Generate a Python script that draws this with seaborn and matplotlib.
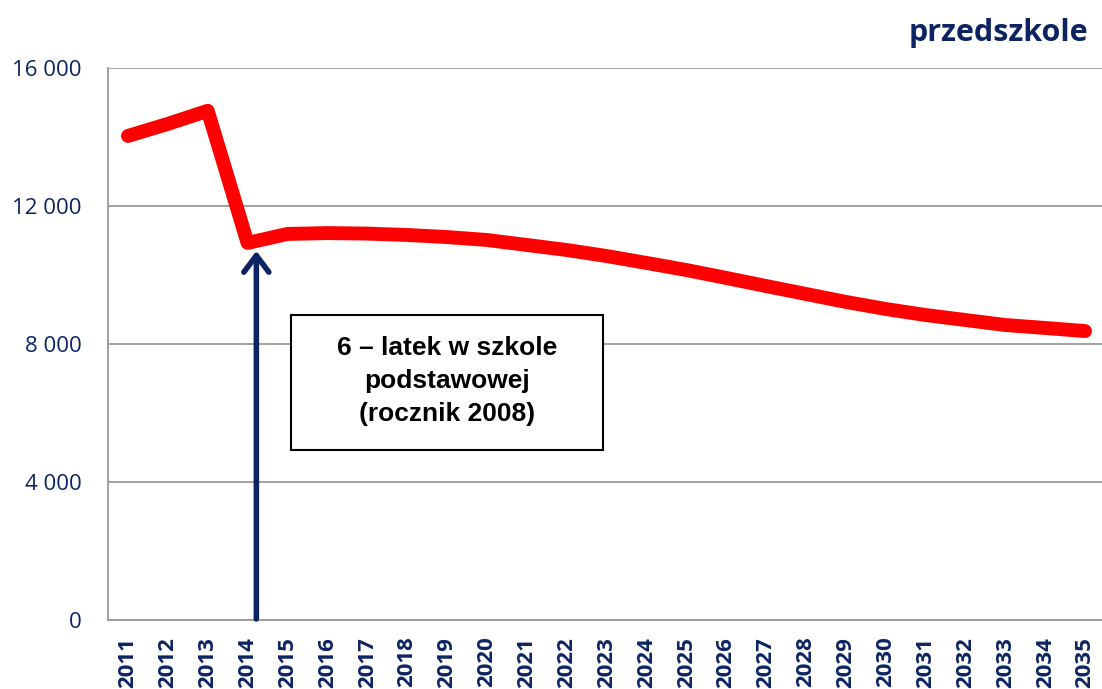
import matplotlib
matplotlib.use("Agg")
import matplotlib.pyplot as plt
import seaborn as sns
import pandas as pd
from matplotlib.patches import Rectangle

# data
years = list(range(2011, 2036))
children = [14030, 14380, 14760, 10930, 11190, 11215, 11200, 11160, 11100, 11015,
            10870, 10725, 10550, 10350, 10145, 9915, 9680, 9450, 9220, 9015,
            8840, 8695, 8550, 8465, 8375]
y_ticks = [0, 4000, 8000, 12000, 16000]
y_tick_labels = ["0", "4 000", "8 000", "12 000", "16 000"]
title = "przedszkole"
note = "6 – latek w szkole\npodstawowej\n(rocznik 2008)"

navy = "#0d2463"
df = pd.DataFrame({"rok": years, "liczba": children})

sns.set_style("white")
plt.rcParams["font.family"] = ["Open Sans", "DejaVu Sans"]

fig = plt.figure(figsize=(11.02, 6.89), dpi=100)
ax = fig.add_axes([108 / 1102, 69 / 689, 997 / 1102, 552 / 689])

sns.lineplot(data=df, x="rok", y="liczba", ax=ax, color="#ff0000", linewidth=10,
             solid_capstyle="round", solid_joinstyle="round", zorder=3)

ax.set_xlim(2010.5, 2035.5)
ax.set_ylim(0, 16000)
ax.set_yticks(y_ticks)
ax.set_yticklabels(y_tick_labels, fontsize=16, color=navy)
ax.set_xticks(years)
ax.set_xticklabels([str(y) for y in years], rotation=90, fontsize=16,
                   fontweight="bold", color=navy)
ax.tick_params(axis="x", length=0, pad=12)
ax.tick_params(axis="y", length=0, pad=19)
ax.set_xlabel("")
ax.set_ylabel("")

ax.grid(axis="y", color="#9a9a9a", linewidth=1.3)
ax.grid(axis="x", visible=False)
for side in ["top", "right"]:
    ax.spines[side].set_visible(False)
for side in ["left", "bottom"]:
    ax.spines[side].set_color("#9a9a9a")
    ax.spines[side].set_linewidth(1.3)

# arrow pointing at 2014
ax.annotate("", xy=(2014.22, 10700), xytext=(2014.22, 30),
            arrowprops=dict(arrowstyle="->, head_length=0.6, head_width=0.45",
                            color=navy, lw=4, mutation_scale=20,
                            shrinkA=0, shrinkB=0, capstyle="round"),
            zorder=4)

# note box
ax.add_patch(Rectangle((0.1835, 0.308), 0.313, 0.2445, transform=ax.transAxes,
                       facecolor="white", edgecolor="black", linewidth=1.5, zorder=5))
ax.text(0.340, 0.433, note, transform=ax.transAxes, ha="center", va="center",
        fontsize=19, fontweight="bold", color="black",
        family=["Liberation Sans", "DejaVu Sans"], linespacing=1.45, zorder=6)

fig.text(1088 / 1102, 1 - 33 / 689, title, ha="right", va="center",
         fontsize=22, fontweight="bold", color=navy)

fig.savefig("out.png", dpi=100)
